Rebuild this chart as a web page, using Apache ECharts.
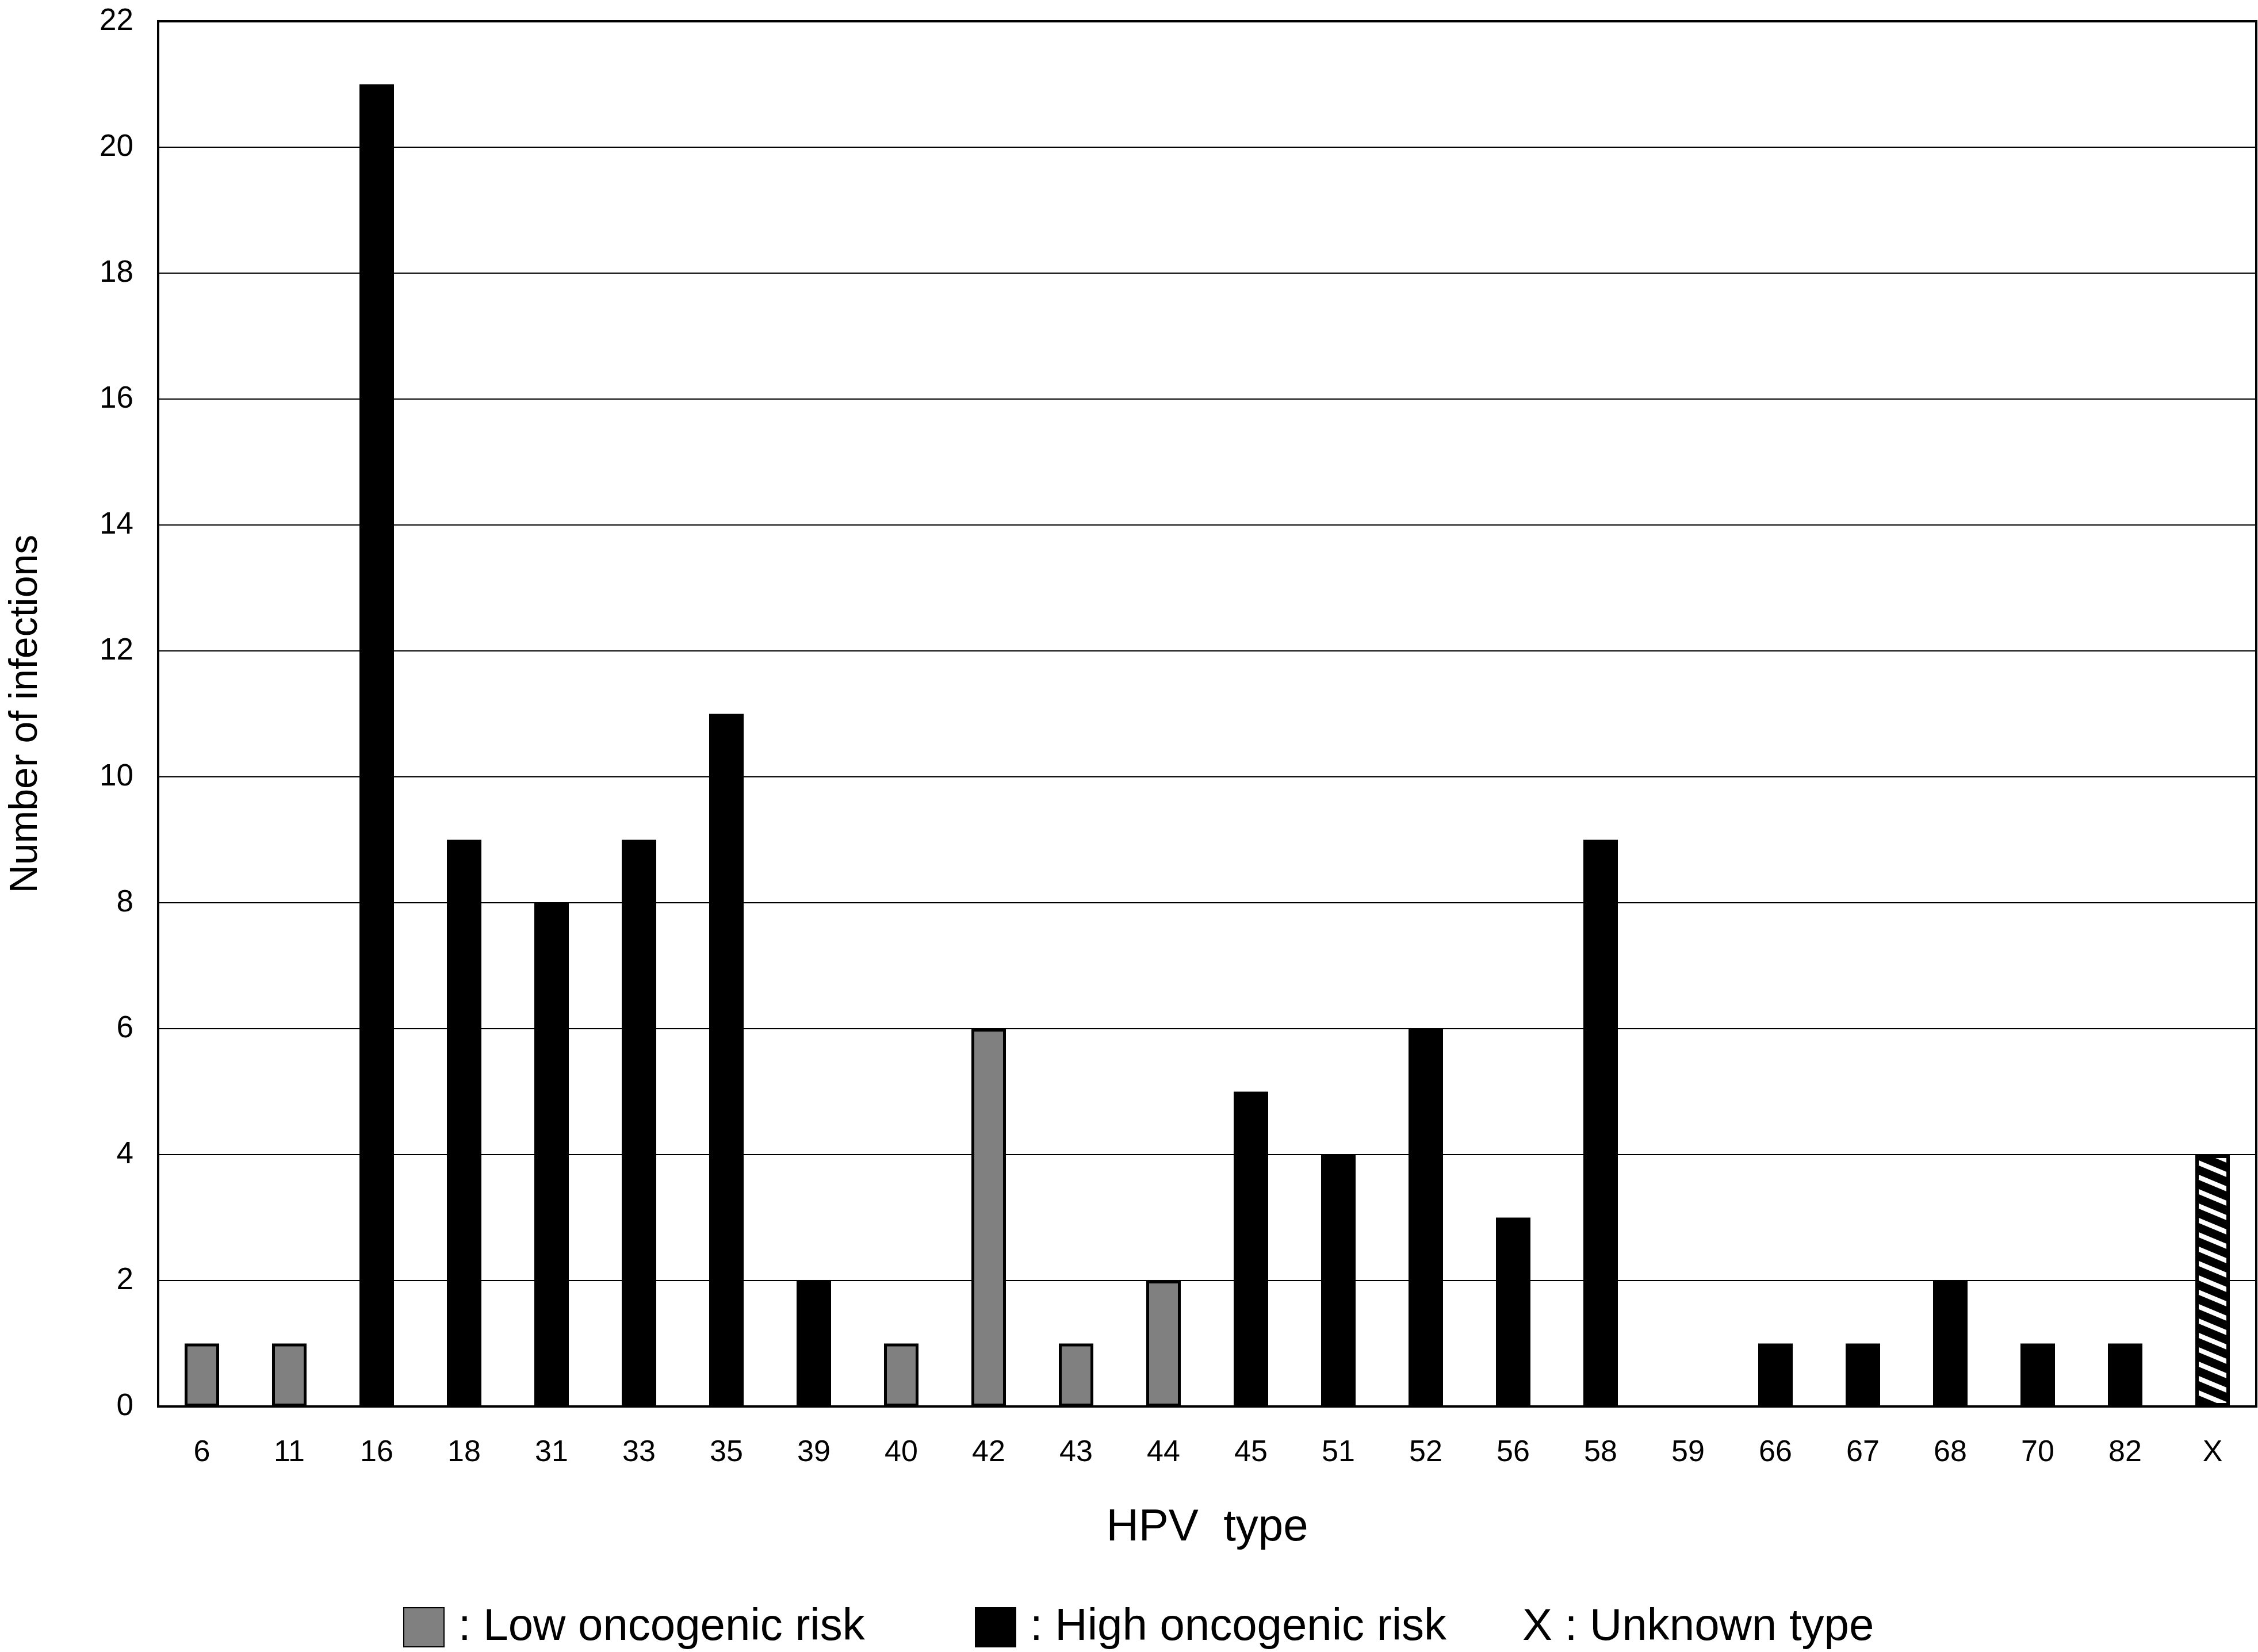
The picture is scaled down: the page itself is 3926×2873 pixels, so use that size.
<!DOCTYPE html>
<html>
<head>
<meta charset="utf-8">
<script src="https://cdn.jsdelivr.net/npm/echarts@6/dist/echarts.min.js"></script>
<style>
  html, body { margin: 0; padding: 0; background: #fff; }
  #chart { width: 3926px; height: 2873px; }
</style>
</head>
<body>
<div id="chart"></div>
<script>
// HPV types on the x axis, in order
const hpvTypes = ['6', '11', '16', '18', '31', '33', '35', '39', '40', '42', '43', '44',
  '45', '51', '52', '56', '58', '59', '66', '67', '68', '70', '82', 'X']
// number of infections per type
const infections = [1, 1, 21, 9, 8, 9, 11, 2, 1, 6, 1, 2,
  5, 4, 6, 3, 9, 0, 1, 1, 2, 1, 1, 4]
// oncogenic risk group per type
const riskGroup = ['low', 'low', 'high', 'high', 'high', 'high', 'high', 'high', 'low', 'low', 'low', 'low',
  'high', 'high', 'high', 'high', 'high', 'high', 'high', 'high', 'high', 'high', 'high', 'unknown']
const yTicks = [0, 22, 2] // min, max, step

const LOW = ': Low oncogenic risk'
const HIGH = ': High oncogenic risk'
const UNKNOWN = 'X : Unknown type'
const FONT = '"Liberation Sans", Arial, Helvetica, sans-serif'

function valuesFor(group) {
  return infections.map((v, i) => (riskGroup[i] === group ? v : '-'))
}

// black tile with white "\" stripes, seamless in both directions
function makeHatch() {
  const w = 60, h = 25, t = 9
  const c = document.createElement('canvas')
  c.width = w
  c.height = h
  const ctx = c.getContext('2d')
  ctx.fillStyle = '#000'
  ctx.fillRect(0, 0, w, h)
  ctx.fillStyle = '#fff'
  for (let k = -2; k <= 1; k++) {
    const y0 = k * h
    ctx.beginPath()
    ctx.moveTo(0, y0)
    ctx.lineTo(w, y0 + h)
    ctx.lineTo(w, y0 + h + t)
    ctx.lineTo(0, y0 + t)
    ctx.closePath()
    ctx.fill()
  }
  return c
}

const chart = echarts.init(document.getElementById('chart'), null, { renderer: 'canvas' })

const legendText = { color: '#000', fontSize: 78, fontFamily: FONT, padding: [0, 0, 0, 20] }

const option = {
  backgroundColor: '#fff',
  animation: false,
  grid: {
    left: 275, right: 3, top: 37, bottom: 427,
    show: true, borderColor: '#000', borderWidth: 4,
    outerBoundsMode: 'none',
  },
  legend: [
    {
      data: [{ name: LOW, icon: 'rect' }],
      left: 696, top: 2786, itemWidth: 70, itemHeight: 68,
      selectedMode: false, textStyle: legendText,
    },
    {
      data: [{ name: HIGH, icon: 'rect' }],
      left: 1690, top: 2786, itemWidth: 70, itemHeight: 68,
      selectedMode: false, textStyle: legendText,
    },
    {
      data: [{ name: UNKNOWN, icon: 'none' }],
      left: 2616, top: 2786, itemWidth: 1, itemHeight: 68,
      selectedMode: false, textStyle: legendText,
    },
  ],
  xAxis: {
    type: 'category',
    data: hpvTypes,
    name: 'HPV  type',
    nameLocation: 'middle',
    nameGap: 172,
    nameTextStyle: { color: '#000', fontSize: 78, fontFamily: FONT },
    axisLine: { lineStyle: { color: '#000', width: 4 } },
    axisTick: { show: false },
    axisLabel: { color: '#000', fontSize: 52, fontFamily: FONT, margin: 55, interval: 0 },
  },
  yAxis: {
    type: 'value',
    min: yTicks[0], max: yTicks[1], interval: yTicks[2],
    name: 'Number of infections',
    nameLocation: 'middle',
    nameGap: 196,
    nameTextStyle: { color: '#000', fontSize: 68, fontFamily: FONT },
    axisLine: { show: true, lineStyle: { color: '#000', width: 4 } },
    axisTick: { show: false },
    axisLabel: { color: '#000', fontSize: 53, fontFamily: FONT, margin: 43 },
    splitLine: { lineStyle: { color: '#000', width: 2 } },
  },
  series: [
    {
      name: LOW, type: 'bar', data: valuesFor('low'),
      barWidth: 60, barGap: '-100%',
      itemStyle: { color: '#808080', borderColor: '#000', borderWidth: 5 },
    },
    {
      name: HIGH, type: 'bar', data: valuesFor('high'),
      barWidth: 60, barGap: '-100%',
      itemStyle: { color: '#000', borderColor: '#000', borderWidth: 4 },
    },
    {
      name: UNKNOWN, type: 'bar', data: valuesFor('unknown'),
      barWidth: 60, barGap: '-100%',
      itemStyle: { color: { image: makeHatch(), repeat: 'repeat' }, borderColor: '#000', borderWidth: 6 },
    },
  ],
}

chart.setOption(option)
</script>
</body>
</html>
